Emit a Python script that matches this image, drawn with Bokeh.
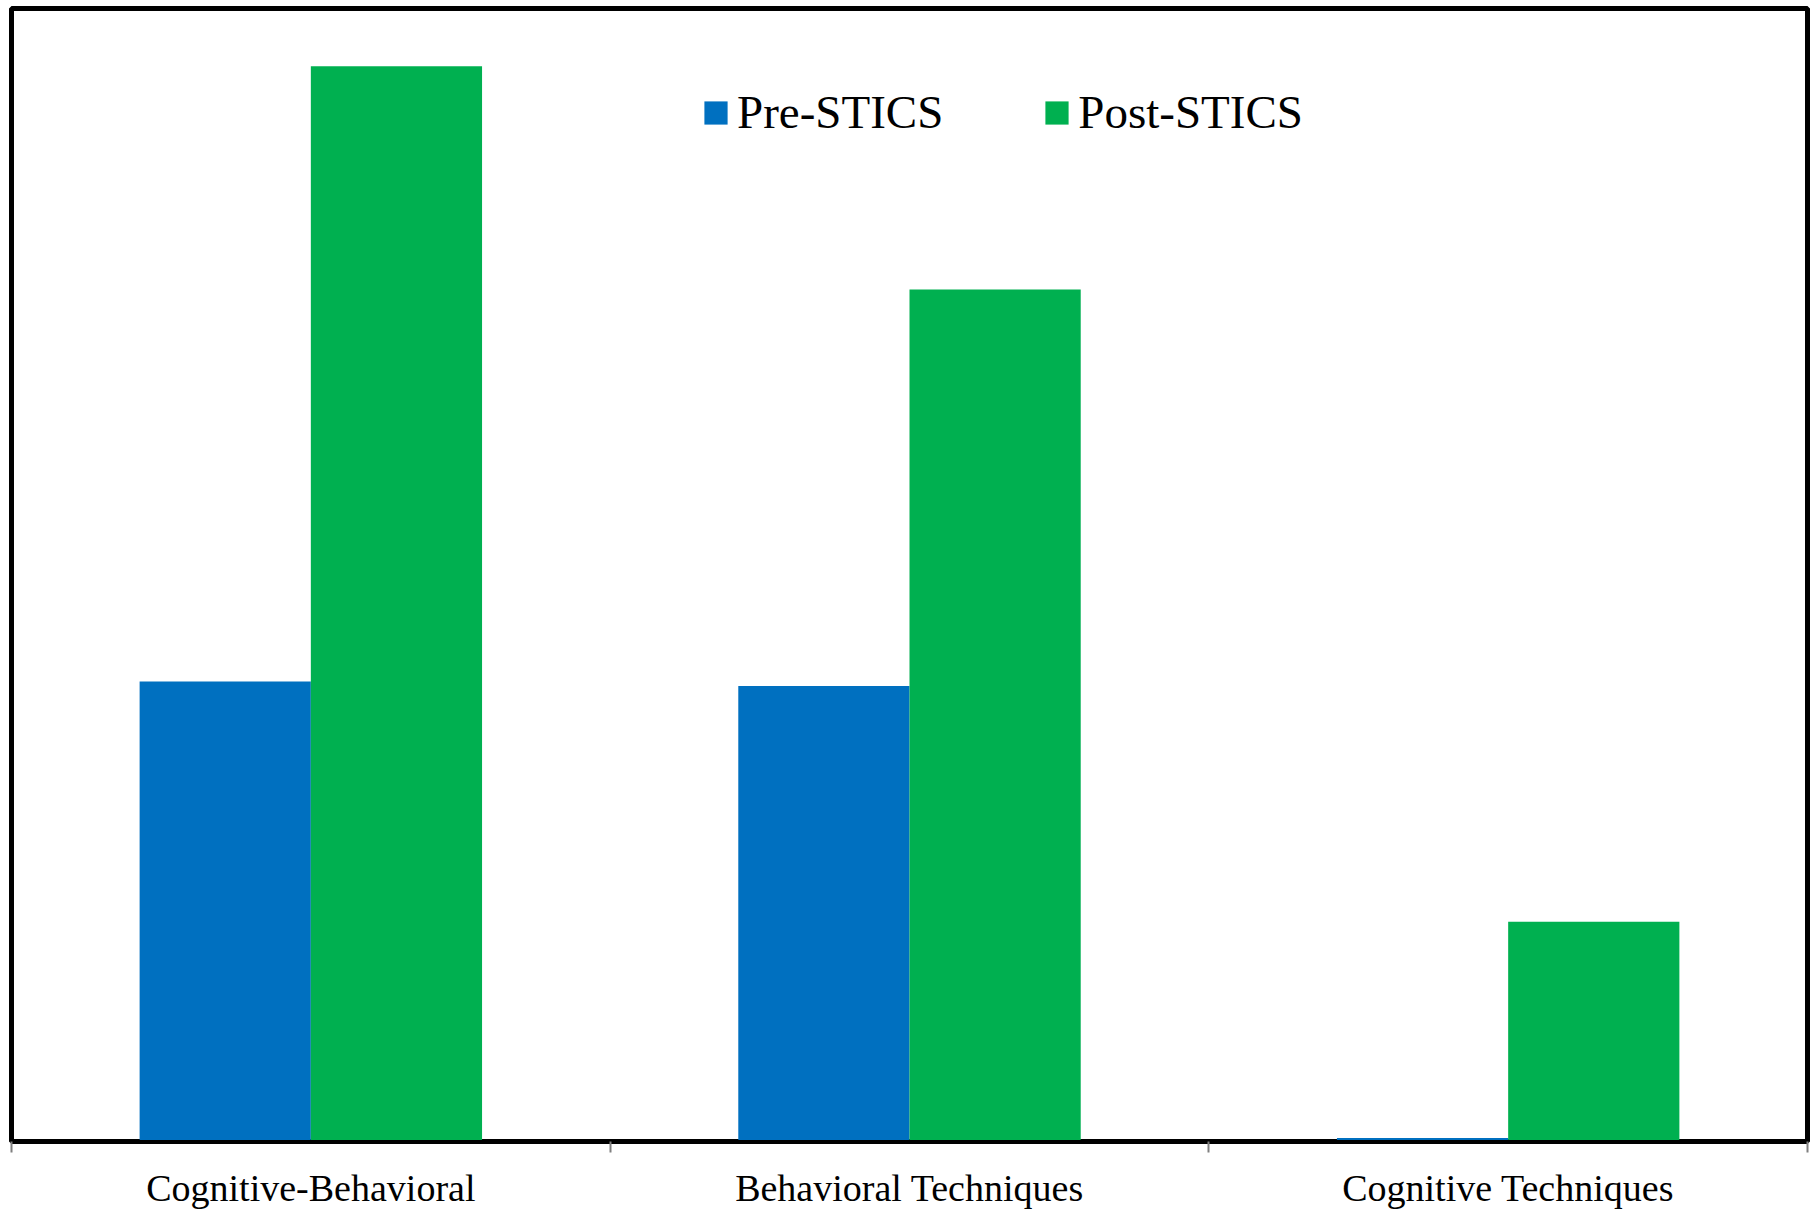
from bokeh.plotting import figure
from bokeh.models import (ColumnDataSource, Range1d, LinearAxis,
                          FixedTicker, Legend, LegendItem)
from bokeh.transform import dodge
from bokeh.embed import file_html
from bokeh.resources import INLINE

categories = ["Cognitive-Behavioral", "Behavioral Techniques", "Cognitive Techniques"]
series_names = ["Pre-STICS", "Post-STICS"]
pre_values = [40.6, 40.2, 0.3]
post_values = [94.9, 75.2, 19.4]
colors = ["#0070C0", "#00B050"]

centers = [i + 0.5 for i in range(len(categories))]
src = ColumnDataSource(dict(cat=categories, xc=centers, pre=pre_values, post=post_values))

FONT = "Liberation Serif"

p = figure(width=1815, height=1211, output_backend="svg", toolbar_location=None,
           x_range=Range1d(0, len(categories)), y_range=Range1d(0, 100),
           x_axis_location=None, y_axis_location=None,
           min_border_left=11, min_border_right=8, min_border_top=8, min_border_bottom=0)
p.grid.visible = False
p.outline_line_color = "black"
p.outline_line_width = 5
p.background_fill_color = "white"
p.border_fill_color = "white"

bw = 0.286
r_pre = p.vbar(x=dodge("xc", -bw / 2, range=p.x_range), top="pre", width=bw,
               source=src, fill_color=colors[0], line_color=None)
r_post = p.vbar(x=dodge("xc", bw / 2, range=p.x_range), top="post", width=bw,
                source=src, fill_color=colors[1], line_color=None)

ax = LinearAxis()
ax.ticker = FixedTicker(ticks=centers, minor_ticks=list(range(len(categories) + 1)))
ax.major_label_overrides = {c: lab for c, lab in zip(centers, categories)}
ax.major_tick_out = 0
ax.major_tick_in = 0
ax.minor_tick_out = 11
ax.minor_tick_in = 0
ax.minor_tick_line_color = "#808080"
ax.minor_tick_line_width = 2
ax.axis_line_color = "black"
ax.axis_line_width = 3
ax.major_label_standoff = 14
ax.major_label_text_font = FONT
ax.major_label_text_font_size = "38px"
ax.major_label_text_color = "black"
p.add_layout(ax, "below")

legend = Legend(items=[LegendItem(label=series_names[0], renderers=[r_pre]),
                       LegendItem(label=series_names[1], renderers=[r_post])],
                orientation="horizontal", location=(690, 1002),
                label_text_font=FONT, label_text_font_size="47px",
                label_text_color="black",
                glyph_width=29, glyph_height=29, label_standoff=7, spacing=99,
                padding=0, margin=0, border_line_color=None,
                background_fill_alpha=0)
p.add_layout(legend)

open("out.html", "w").write(file_html(p, INLINE))
